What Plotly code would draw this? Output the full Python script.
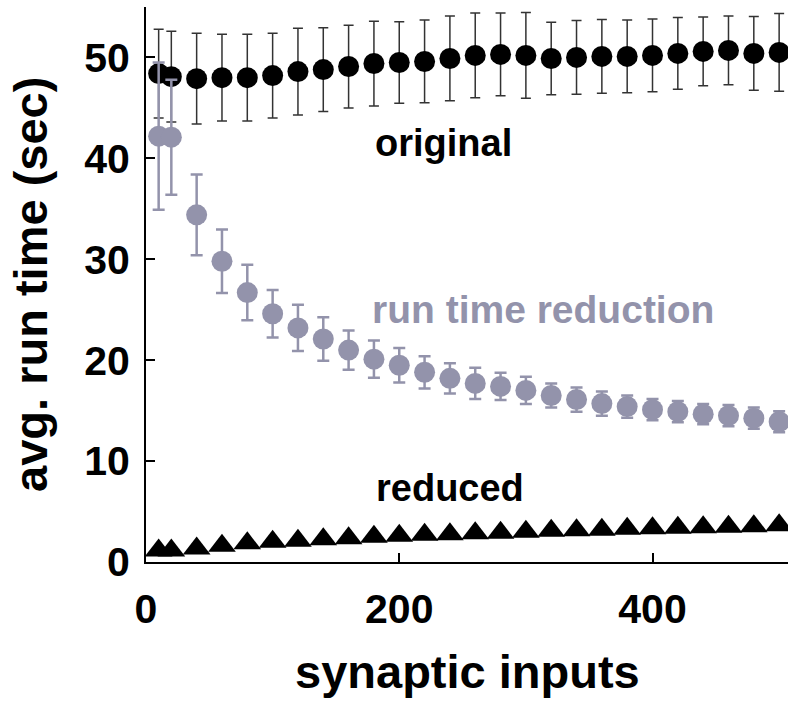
import plotly.graph_objects as go

x_inputs = [10, 20, 40, 60, 80, 100, 120, 140, 160, 180, 200, 220, 240, 260,
            280, 300, 320, 340, 360, 380, 400, 420, 440, 460, 480, 500]

original_mean = [48.4, 48.1, 47.9, 48.0, 48.0, 48.2, 48.6, 48.8, 49.1, 49.4, 49.5, 49.6, 49.9,
                 50.2, 50.3, 50.2, 49.9, 50.0, 50.1, 50.1, 50.2, 50.4, 50.6, 50.7, 50.4, 50.5]
original_err = [4.4, 4.5, 4.5, 4.3, 4.3, 4.2, 4.3, 4.15, 4.1, 4.2, 4.05, 4.1, 4.2,
                4.2, 4.1, 4.25, 3.6, 3.65, 3.65, 3.6, 3.6, 3.55, 3.4, 3.4, 3.65, 3.85]

reduction_mean = [42.2, 42.1, 34.4, 29.8, 26.7, 24.6, 23.2, 22.1, 21.0, 20.1, 19.5, 18.8, 18.2,
                  17.7, 17.4, 17.0, 16.5, 16.1, 15.7, 15.4, 15.1, 14.9, 14.65, 14.5, 14.25, 13.9]
reduction_err = [7.3, 5.7, 4.0, 3.15, 2.75, 2.35, 2.3, 2.15, 1.95, 1.85, 1.7, 1.6, 1.5,
                 1.55, 1.35, 1.35, 1.2, 1.2, 1.2, 1.1, 1.05, 1.05, 1.0, 1.05, 1.05, 1.05]

reduced_mean = [1.15, 1.15, 1.35, 1.6, 1.85, 2.0, 2.1, 2.25, 2.35, 2.5, 2.6, 2.7, 2.75,
                2.85, 2.9, 3.0, 3.1, 3.15, 3.2, 3.3, 3.35, 3.4, 3.45, 3.5, 3.55, 3.65]

x_ticks = [0, 200, 400]
y_ticks = [0, 10, 20, 30, 40, 50]

BLACK = "#000000"
GRAY = "#9393AB"
FONT = "Liberation Sans, Arial, sans-serif"

fig = go.Figure()

fig.add_trace(go.Scatter(
    x=x_inputs, y=original_mean, mode="markers",
    marker=dict(symbol="circle", size=21, color=BLACK),
    error_y=dict(type="data", array=original_err, visible=True,
                 color="#333333", thickness=1.5, width=5),
    showlegend=False,
))

fig.add_trace(go.Scatter(
    x=x_inputs, y=reduction_mean, mode="markers",
    marker=dict(symbol="circle", size=21, color=GRAY),
    error_y=dict(type="data", array=reduction_err, visible=True,
                 color=GRAY, thickness=2.5, width=6),
    showlegend=False,
))

fig.add_trace(go.Scatter(
    x=x_inputs, y=reduced_mean, mode="markers",
    marker=dict(symbol="triangle-up", size=24, color=BLACK),
    showlegend=False,
))

fig.add_annotation(x=235, y=41.5, text="<b>original</b>", showarrow=False,
                   xanchor="center", yanchor="middle",
                   font=dict(family=FONT, size=38, color=BLACK))
fig.add_annotation(x=313.5, y=25.0, text="<b>run time reduction</b>", showarrow=False,
                   xanchor="center", yanchor="middle",
                   font=dict(family=FONT, size=39, color=GRAY))
fig.add_annotation(x=240, y=7.3, text="<b>reduced</b>", showarrow=False,
                   xanchor="center", yanchor="middle",
                   font=dict(family=FONT, size=38, color=BLACK))

# axis titles
fig.add_annotation(xref="paper", yref="paper", x=-0.18, y=0.5, textangle=-90,
                   xanchor="center", yanchor="middle",
                   text="<b>avg. run time (sec)</b>", showarrow=False,
                   font=dict(family=FONT, size=47, color=BLACK))
fig.add_annotation(xref="paper", yref="paper", x=0.5, y=-0.197,
                   xanchor="center", yanchor="middle",
                   text="<b>synaptic inputs</b>", showarrow=False,
                   font=dict(family=FONT, size=47, color=BLACK))

fig.update_layout(
    width=799, height=709,
    margin=dict(l=146, r=11, t=7, b=147),
    paper_bgcolor="white", plot_bgcolor="white",
    font=dict(family=FONT, color=BLACK),
)

fig.update_xaxes(
    range=[0, 507], tickvals=x_ticks, ticktext=[str(v) for v in x_ticks],
    showgrid=False, zeroline=False, showline=True, linecolor=BLACK, linewidth=2,
    ticks="inside", ticklen=9, tickwidth=2, tickcolor=BLACK,
    tickfont=dict(family=FONT, size=41, color=BLACK, weight="bold"),
    ticklabelstandoff=10,
    automargin=False,
)
fig.update_yaxes(
    range=[0, 55], tickvals=y_ticks, ticktext=[str(v) for v in y_ticks],
    showgrid=False, zeroline=False, showline=True, linecolor=BLACK, linewidth=2,
    ticks="inside", ticklen=9, tickwidth=2, tickcolor=BLACK,
    tickfont=dict(family=FONT, size=41, color=BLACK, weight="bold"),
    ticklabelstandoff=6,
    automargin=False,
)

fig.write_html("out.html", config={"displayModeBar": False},
               post_script="document.body.style.margin='0';document.body.style.overflow='hidden';")
